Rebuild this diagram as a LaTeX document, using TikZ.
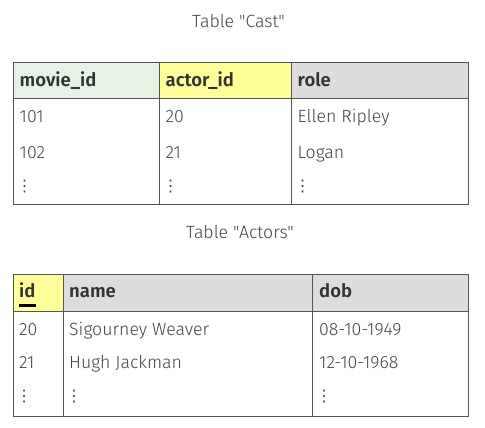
\documentclass[tikz,border=0pt]{standalone}
\usepackage{fontspec}
\setmainfont{Fira Sans}[UprightFont=* Light, BoldFont=* SemiBold, Ligatures=TeXOff]
\newfontfamily\dvs{DejaVu Sans}
\definecolor{bordc}{RGB}{85,85,85}
\definecolor{hdgreen}{RGB}{230,242,230}
\definecolor{hdyellow}{RGB}{255,255,153}
\definecolor{hdgray}{RGB}{221,221,221}
\definecolor{txtc}{RGB}{68,68,68}
\definecolor{hdtxt}{RGB}{51,51,51}
\newcommand\mydots{{\dvs\fontsize{16}{18}\selectfont ⋮}}
\tikzset{
  hcell/.style 2 args={draw=bordc, line width=1.2pt, fill=#2, rectangle, anchor=north west,
    minimum width=#1, minimum height=36.5pt, inner sep=0pt},
  bcell/.style 2 args={draw=bordc, line width=1.2pt, rectangle, anchor=north west,
    minimum width=#1, minimum height=#2, inner sep=0pt},
  htext/.style={anchor=base west, inner sep=0pt, font=\bfseries\fontsize{18.5}{22}\selectfont, text=hdtxt},
  btext/.style={anchor=base west, inner sep=0pt, font=\fontsize{17.7}{21}\selectfont, text=txtc},
  title/.style={anchor=base, inner sep=0pt, font=\fontsize{17.7}{21}\selectfont, text=txtc},
}
\begin{document}
\begin{tikzpicture}[x=1pt,y=-1pt]
\useasboundingbox (0,0) rectangle (485,428);
% Table Cast
\node[title] (t1) at (238.5,27.3) {Table "Cast"};
\node[bcell={146pt}{106pt}] (c1b) at (13,98) {};
\node[bcell={132pt}{106pt}] (c2b) at (159,98) {};
\node[bcell={177pt}{106pt}] (c3b) at (291,98) {};
\node[hcell={146pt}{hdgreen}] (c1h) at (13,61.7) {};
\node[hcell={132pt}{hdyellow}] (c2h) at (159,61.7) {};
\node[hcell={177pt}{hdgray}] (c3h) at (291,61.7) {};
\node[htext] (c1ht) at (19.5,86.3) {movie\_id};
\node[htext] (c2ht) at (165.5,86.3) {actor\_id};
\node[htext] (c3ht) at (297.5,86.3) {role};
\node[btext] (c11) at (19.5,122.5) {101};
\node[btext] (c12) at (19.5,158.4) {102};
\node[btext] (c13) at (16.5,191.7) {\mydots};
\node[btext] (c21) at (165.5,122.5) {20};
\node[btext] (c22) at (165.5,158.4) {21};
\node[btext] (c23) at (162.5,191.7) {\mydots};
\node[btext] (c31) at (297.5,122.5) {Ellen Ripley};
\node[btext] (c32) at (297.5,158.4) {Logan};
\node[btext] (c33) at (294.5,191.7) {\mydots};
% Table Actors
\node[title] (t2) at (240,238.3) {Table "Actors"};
\node[bcell={49.5pt}{105.5pt}] (a1b) at (13,310.7) {};
\node[bcell={249.5pt}{105.5pt}] (a2b) at (62.5,310.7) {};
\node[bcell={156pt}{105.5pt}] (a3b) at (312,310.7) {};
\node[hcell={49.5pt}{hdyellow}] (a1h) at (13,274) {};
\node[hcell={249.5pt}{hdgray}] (a2h) at (62.5,274) {};
\node[hcell={156pt}{hdgray}] (a3h) at (312,274) {};
\node[htext] (a1ht) at (19,297.3) {id};
\coordinate (ulA) at (19.3,305.8);
\coordinate (ulB) at (35.7,305.8);
\draw[line width=3pt, black] (ulA) -- (ulB);
\node[htext] (a2ht) at (69,297.3) {name};
\node[htext] (a3ht) at (319,297.3) {dob};
\node[btext] (a11) at (19,335.3) {20};
\node[btext] (a12) at (19,368.3) {21};
\node[btext] (a13) at (16,401.7) {\mydots};
\node[btext] (a21) at (69,335.3) {Sigourney Weaver};
\node[btext] (a22) at (69,368.3) {Hugh Jackman};
\node[btext] (a23) at (66,401.7) {\mydots};
\node[btext] (a31) at (319,335.3) {08-10-1949};
\node[btext] (a32) at (319,368.3) {12-10-1968};
\node[btext] (a33) at (316,401.7) {\mydots};
\end{tikzpicture}
\end{document}
